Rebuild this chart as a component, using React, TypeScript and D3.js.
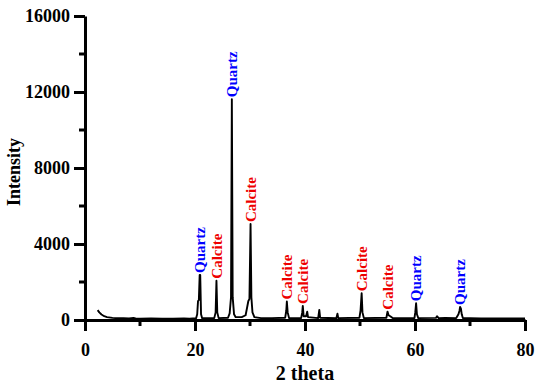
import React, { useRef, useEffect } from 'react';
import { select, scaleLinear, axisBottom, axisLeft, line } from 'd3';

// diffraction trace
const twoTheta = [
  2.3, 2.6, 3.0, 3.5, 4.0, 5.0, 6.0, 7.0, 8.0, 8.8, 9.2, 10, 12, 14, 16, 18, 19,
  20.2, 20.4, 20.55, 20.7, 20.85, 20.95, 21.1, 21.3,
  23.5, 23.75, 23.9, 24.05, 24.3,
  26.0, 26.3, 26.55, 26.7, 26.85, 27.1, 27.4,
  28.5, 29.2, 29.5, 29.7, 29.9, 30.1, 30.25, 30.45, 30.8,
  32, 34, 36.4, 36.6, 36.7, 36.85, 37.1,
  39.3, 39.5, 39.6, 39.75, 40.2, 40.4, 40.55,
  42.4, 42.6, 42.75, 45.7, 45.9, 46.05,
  49.9, 50.1, 50.3, 50.45, 50.7,
  54.8, 55.0, 55.2, 55.5, 56,
  59.9, 60.05, 60.2, 60.35, 60.6,
  63.8, 64.0, 64.3, 65.5, 67.5, 67.9, 68.1, 68.2, 68.35, 68.5, 68.7,
  70, 72, 75, 78, 80,
];
const intensity = [
  520, 400, 290, 200, 150, 110, 95, 90, 85, 110, 80, 75, 80, 70, 75, 80, 70,
  90, 300, 1000, 1050, 2370, 2370, 300, 90,
  100, 400, 2070, 400, 100,
  120, 350, 1200, 11620, 1200, 300, 150,
  150, 250, 700, 1000, 1100, 5050, 1200, 400, 150,
  100, 100, 120, 500, 970, 400, 100,
  100, 400, 740, 200, 200, 440, 150,
  100, 530, 120, 90, 330, 100,
  120, 500, 1410, 400, 100,
  120, 440, 250, 200, 90,
  100, 400, 880, 300, 100,
  110, 200, 100, 110, 100, 300, 500, 690, 600, 300, 100,
  90, 85, 80, 80, 80,
];

const peakLabels = ['Quartz', 'Calcite', 'Quartz', 'Calcite', 'Calcite', 'Calcite', 'Calcite', 'Calcite', 'Quartz', 'Quartz'];
const peakPositions = [20.9, 23.9, 26.7, 30.1, 36.7, 39.6, 50.3, 55.0, 60.2, 68.2];
const peakHeights = [2370, 2070, 11620, 5050, 970, 740, 1410, 440, 880, 690];

const xTicks = [0, 20, 40, 60, 80];
const xMinorTicks = [10, 30, 50, 70];
const yTicks = [0, 4000, 8000, 12000, 16000];
const yMinorTicks = [2000, 6000, 10000, 14000];

const phaseColor = { Quartz: '#0000ff', Calcite: '#ee0000' };
const FONT = '"Liberation Serif", "Times New Roman", serif';

const W = 547;
const H = 387;

export default function App() {
  const svgRef = useRef(null);

  useEffect(() => {
    const svg = select(svgRef.current);
    svg.selectAll('*').remove();

    const x = scaleLinear().domain([0, 80]).range([85, 525]);
    const y = scaleLinear().domain([0, 16000]).range([320, 16]);

    // trace
    const pts = twoTheta.map((t, i) => [t, intensity[i]]);
    const trace = line()
      .x((d) => x(d[0]))
      .y((d) => y(d[1]));
    svg
      .append('path')
      .attr('d', trace(pts))
      .attr('fill', 'none')
      .attr('stroke', '#000')
      .attr('stroke-width', 1.9)
      .attr('stroke-linejoin', 'round');

    // x axis
    const gx = svg.append('g').attr('transform', `translate(0,${y(0)})`);
    gx.call(
      axisBottom(x)
        .tickValues(xTicks)
        .tickFormat((d) => String(d))
        .tickSize(11)
        .tickSizeOuter(0)
        .tickPadding(7)
    );
    gx.append('g')
      .selectAll('line')
      .data(xMinorTicks)
      .enter()
      .append('line')
      .attr('x1', (d) => x(d))
      .attr('x2', (d) => x(d))
      .attr('y1', 0)
      .attr('y2', 6);

    // y axis
    const gy = svg.append('g').attr('transform', `translate(${x(0)},0)`);
    gy.call(
      axisLeft(y)
        .tickValues(yTicks)
        .tickFormat((d) => String(d))
        .tickSize(11)
        .tickSizeOuter(0)
        .tickPadding(4)
    );
    gy.append('g')
      .selectAll('line')
      .data(yMinorTicks)
      .enter()
      .append('line')
      .attr('y1', (d) => y(d))
      .attr('y2', (d) => y(d))
      .attr('x1', 0)
      .attr('x2', -6);

    svg.selectAll('.domain').attr('stroke', '#000').attr('stroke-width', 3);
    svg.selectAll('line').attr('stroke', '#000').attr('stroke-width', 3);
    svg
      .selectAll('.tick text')
      .attr('fill', '#000')
      .style('font-family', FONT)
      .style('font-size', '18px')
      .style('font-weight', 'bold');
    gx.selectAll('.tick text').attr('dy', '1em');

    // peak labels
    peakLabels.forEach((name, i) => {
      svg
        .append('text')
        .attr('transform', `translate(${x(peakPositions[i])},${y(peakHeights[i]) - 2}) rotate(-90)`)
        .attr('dy', '0.35em')
        .attr('fill', phaseColor[name])
        .style('font-family', FONT)
        .style('font-size', '15px')
        .style('font-weight', 'bold')
        .text(name);
    });

    // axis titles
    svg
      .append('text')
      .attr('x', 305)
      .attr('y', 380)
      .attr('text-anchor', 'middle')
      .style('font-family', FONT)
      .style('font-size', '20px')
      .style('font-weight', 'bold')
      .text('2 theta');
    svg
      .append('text')
      .attr('transform', 'translate(20,172) rotate(-90)')
      .attr('text-anchor', 'middle')
      .style('font-family', FONT)
      .style('font-size', '18px')
      .style('font-weight', 'bold')
      .text('Intensity');
  }, []);

  return (
    <svg
      ref={svgRef}
      width={W}
      height={H}
      style={{ position: 'absolute', left: 0, top: 0, background: '#fff' }}
    />
  );
}
